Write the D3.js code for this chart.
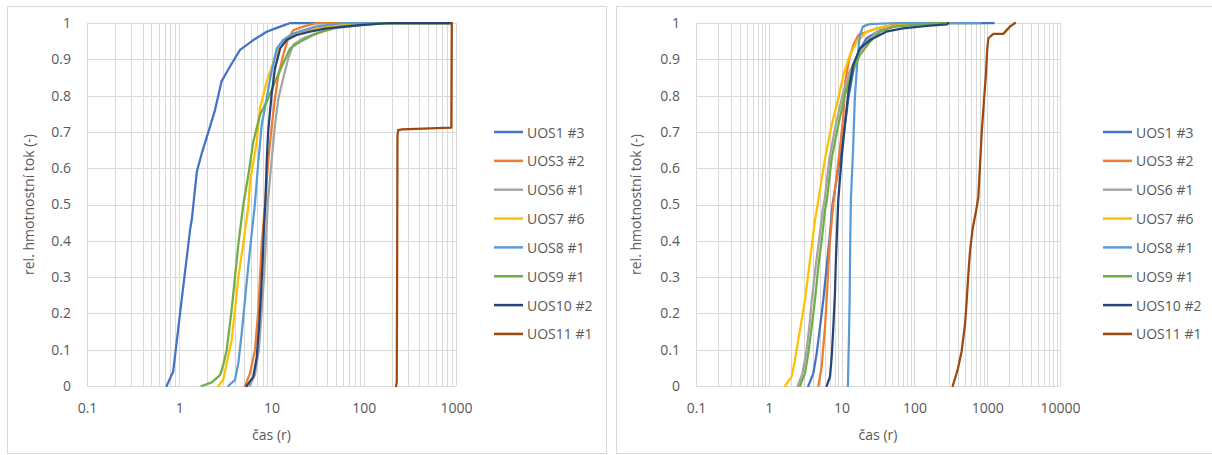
<!DOCTYPE html>
<html><head><meta charset="utf-8">
<script src="https://cdn.jsdelivr.net/npm/d3@7"></script>
<style>
html,body{margin:0;padding:0;background:#fff;}
text{font-family:"Open Sans",sans-serif;fill:#595959;}
</style></head>
<body>
<svg id="chart" width="1212" height="455"></svg>
<script>
// ---------- DATA ----------
const seriesNames = ["UOS1 #3","UOS3 #2","UOS6 #1","UOS7 #6","UOS8 #1","UOS9 #1","UOS10 #2","UOS11 #1"];
const seriesColors = ["#4472C4","#ED7D31","#A5A5A5","#FFC000","#5B9BD5","#70AD47","#264478","#9E480E"];
const yTickValues = [0,0.1,0.2,0.3,0.4,0.5,0.6,0.7,0.8,0.9,1];
const yTickLabels = ["0","0.1","0.2","0.3","0.4","0.5","0.6","0.7","0.8","0.9","1"];
const leftXTicks = [0.1,1,10,100,1000];
const leftXLabels = ["0.1","1","10","100","1000"];
const rightXTicks = [0.1,1,10,100,1000,10000];
const rightXLabels = ["0.1","1","10","100","1000","10000"];
const xTitle = "čas (r)";
const yTitle = "rel. hmotnostní tok (-)";

// left chart series [time, value]
const L_UOS1 = [[0.73,0],[0.86,0.04],[1.02,0.2],[1.15,0.31],[1.31,0.43],[1.37,0.46],[1.55,0.59],[1.75,0.64],[2.07,0.7],[2.44,0.76],[2.88,0.84],[3.55,0.88],[4.56,0.926],[6.35,0.953],[8.87,0.976],[12.4,0.99],[16,1],[900,1]];
const L_UOS3 = [[5.16,0],[5.85,0.035],[6.62,0.1],[7.2,0.21],[7.5,0.3],[7.83,0.39],[8.5,0.5],[9.2,0.618],[10.0,0.71],[10.9,0.793],[11.9,0.857],[13.4,0.912],[15.2,0.958],[17.2,0.98],[22.1,0.99],[31,1],[900,1]];
const L_UOS6 = [[5.8,0],[6.6,0.03],[7.3,0.1],[7.8,0.2],[8.3,0.3],[8.7,0.4],[9.1,0.5],[10.0,0.618],[10.9,0.719],[11.9,0.793],[13.4,0.848],[15.2,0.903],[17.2,0.94],[22.1,0.958],[30.9,0.972],[47,0.985],[100,0.995],[200,1],[900,1]];
const L_UOS7 = [[2.65,0],[3.0,0.017],[3.27,0.063],[3.7,0.127],[4.02,0.21],[4.37,0.3],[4.95,0.393],[5.6,0.494],[5.85,0.563],[6.92,0.673],[7.5,0.765],[8.87,0.838],[10.5,0.893],[12.4,0.94],[14.6,0.958],[20,0.975],[40,0.99],[80,1],[900,1]];
const L_UOS8 = [[3.4,0],[4.02,0.017],[4.37,0.063],[4.75,0.145],[5.16,0.237],[5.6,0.33],[6.1,0.42],[6.6,0.5],[7.2,0.618],[7.83,0.719],[8.87,0.793],[10.0,0.866],[11.4,0.93],[13.4,0.953],[17.2,0.971],[30,0.99],[60,1],[900,1]];
const L_UOS9 = [[1.75,0],[2.25,0.01],[2.77,0.03],[3.0,0.058],[3.27,0.1],[3.7,0.21],[4.02,0.3],[4.37,0.39],[4.95,0.5],[5.6,0.58],[6.35,0.673],[7.5,0.747],[8.87,0.783],[10.9,0.838],[13.4,0.889],[15.9,0.93],[20.4,0.948],[28.4,0.967],[39.6,0.98],[55.3,0.99],[150,1],[900,1]];
const L_UOS10 = [[5.38,0],[6.35,0.026],[6.92,0.08],[7.33,0.163],[7.7,0.255],[8.03,0.347],[8.3,0.439],[8.6,0.51],[8.87,0.618],[9.2,0.7],[10.0,0.8],[10.9,0.875],[12.4,0.93],[14.6,0.953],[18.7,0.967],[26.1,0.976],[39.6,0.985],[91,0.994],[193,1],[900,1]];
const L_UOS11 = [[224,0],[228,0.01],[230,0.3],[232,0.69],[236,0.705],[260,0.707],[890,0.712],[900,1]];

// right chart series [time, value]
const R_UOS1 = [[3.49,0],[4.09,0.035],[4.55,0.09],[5.05,0.163],[5.61,0.237],[6.24,0.329],[6.93,0.42],[7.5,0.5],[9.5,0.627],[11.1,0.719],[12.4,0.793],[14.4,0.866],[17,0.921],[22.1,0.958],[33.7,0.98],[63,0.994],[148,1],[1230,1]];
const R_UOS3 = [[4.79,0],[5.33,0.053],[5.61,0.108],[5.92,0.163],[6.24,0.237],[6.58,0.329],[6.93,0.402],[7.7,0.503],[8.57,0.58],[9.5,0.655],[10.6,0.747],[11.2,0.838],[12.8,0.903],[14.5,0.94],[17,0.967],[30,0.985],[51,0.995],[100,1],[300,1]];
const R_UOS6 = [[2.5,0],[2.9,0.035],[3.25,0.09],[3.6,0.163],[3.9,0.237],[4.4,0.329],[4.9,0.402],[5.5,0.485],[5.8,0.508],[6.8,0.627],[8.3,0.719],[10.3,0.802],[12.9,0.866],[16.5,0.912],[22,0.948],[31,0.976],[48,0.99],[120,0.997],[300,1]];
const R_UOS7 = [[1.67,0],[2.06,0.026],[2.29,0.072],[2.54,0.127],[2.83,0.182],[3.14,0.237],[3.49,0.31],[3.88,0.384],[4.31,0.457],[4.79,0.512],[5.92,0.627],[7.31,0.719],[9.02,0.793],[10.6,0.857],[13.0,0.912],[16.1,0.948],[22.1,0.976],[37.4,0.99],[87,0.997],[400,1],[580,1]];
const R_UOS8 = [[12.2,0],[12.6,0.127],[12.9,0.237],[13.1,0.375],[13.4,0.512],[14.4,0.655],[15.2,0.793],[16.1,0.866],[17,0.93],[17.9,0.967],[19.6,0.99],[24,0.997],[57,1],[800,1]];
const R_UOS9 = [[2.68,0],[3.14,0.035],[3.49,0.09],[3.88,0.163],[4.31,0.237],[4.79,0.329],[5.33,0.402],[5.92,0.485],[6.24,0.508],[7.31,0.627],[9.02,0.719],[11.1,0.802],[13.8,0.866],[17.9,0.912],[24.5,0.948],[33.7,0.976],[51.3,0.99],[200,1],[300,1]];
const R_UOS10 = [[6.24,0],[6.93,0.026],[7.31,0.08],[7.7,0.163],[8.1,0.255],[8.35,0.347],[8.7,0.439],[9.0,0.512],[10.0,0.627],[11.1,0.719],[12.4,0.811],[14.4,0.884],[17.9,0.93],[24.5,0.953],[41,0.976],[69,0.985],[148,0.992],[280,0.996],[290,1]];
const R_UOS11 = [[336,0],[380,0.035],[397,0.049],[444,0.094],[495,0.168],[522,0.232],[550,0.306],[580,0.37],[631,0.434],[700,0.48],[755,0.52],[795,0.604],[839,0.696],[904,0.788],[963,0.862],[1000,0.926],[1037,0.958],[1214,0.97],[1660,0.97],[2056,0.99],[2410,1]];

const leftSeries = [L_UOS1,L_UOS3,L_UOS6,L_UOS7,L_UOS8,L_UOS9,L_UOS10,L_UOS11];
const rightSeries = [R_UOS1,R_UOS3,R_UOS6,R_UOS7,R_UOS8,R_UOS9,R_UOS10,R_UOS11];

// ---------- DRAW ----------
const svg = d3.select("#chart");
const GRID = "#D9D9D9";

function panel(cfg) {
  const g = svg.append("g");
  // chart area border
  g.append("rect").attr("x", cfg.bx + 0.5).attr("y", 6.5).attr("width", cfg.bw).attr("height", 447)
    .attr("fill", "#fff").attr("stroke", GRID).attr("stroke-width", 1);

  const x = d3.scaleLog().domain(cfg.domain).range([cfg.x0, cfg.x1]);
  const y = d3.scaleLinear().domain([0, 1]).range([386, 23]);

  // vertical gridlines (major + minor)
  g.append("g").selectAll("line").data(x.ticks()).join("line")
    .attr("x1", d => Math.round(x(d)) + 0.5).attr("x2", d => Math.round(x(d)) + 0.5)
    .attr("y1", y(1)).attr("y2", y(0))
    .attr("stroke", GRID).attr("stroke-width", 1);
  // horizontal gridlines
  g.append("g").selectAll("line").data(yTickValues).join("line")
    .attr("x1", cfg.x0).attr("x2", cfg.x1)
    .attr("y1", d => Math.round(y(d)) + 0.5).attr("y2", d => Math.round(y(d)) + 0.5)
    .attr("stroke", GRID).attr("stroke-width", 1);

  // axes (labels only)
  const xAxis = d3.axisBottom(x).tickValues(cfg.xTicks)
    .tickFormat((d, i) => cfg.xLabels[i]).tickSize(0).tickPadding(17);
  const gx = g.append("g").attr("transform", `translate(0,${y(0)})`).call(xAxis);
  gx.select(".domain").remove();
  gx.selectAll("text").attr("font-size", "14px").attr("fill", "#595959")
    .attr("font-family", "Open Sans, sans-serif");

  const yAxis = d3.axisLeft(y).tickValues(yTickValues)
    .tickFormat((d, i) => yTickLabels[i]).tickSize(0).tickPadding(cfg.yPad);
  const gy = g.append("g").attr("transform", `translate(${cfg.x0},0)`).call(yAxis);
  gy.select(".domain").remove();
  gy.selectAll("text").attr("font-size", "14px").attr("fill", "#595959")
    .attr("font-family", "Open Sans, sans-serif");

  // titles
  g.append("text").attr("x", (cfg.x0 + cfg.x1) / 2 + cfg.xTitleDx).attr("y", 434)
    .attr("text-anchor", "middle").attr("dominant-baseline", "central")
    .attr("font-size", "14px").text(xTitle);
  g.append("text").attr("transform", `translate(${cfg.yTitleX},${(y(0) + y(1)) / 2}) rotate(-90)`)
    .attr("text-anchor", "middle").attr("dominant-baseline", "central")
    .attr("font-size", "14px").text(yTitle);

  // series
  const line = d3.line().x(d => x(d[0])).y(d => y(d[1]));
  cfg.series.forEach((s, i) => {
    g.append("path").datum(s).attr("d", line)
      .attr("fill", "none").attr("stroke", seriesColors[i])
      .attr("stroke-width", 2.25).attr("stroke-linejoin", "round").attr("stroke-linecap", "round");
  });

  // legend
  const lg = g.append("g");
  seriesNames.forEach((n, i) => {
    const ly = 132 + i * 28.85;
    lg.append("line").attr("x1", cfg.lx).attr("x2", cfg.lx + 29).attr("y1", ly).attr("y2", ly)
      .attr("stroke", seriesColors[i]).attr("stroke-width", 2.5);
    lg.append("text").attr("x", cfg.lx + 33).attr("y", ly).attr("dominant-baseline", "central")
      .attr("font-size", "14px").text(n);
  });
}

panel({bx: 7, bw: 599, x0: 87, x1: 456, domain: [0.1, 1000], xTicks: leftXTicks, xLabels: leftXLabels,
  yPad: 16, yTitleX: 28, xTitleDx: 0, series: leftSeries, lx: 494});
panel({bx: 616, bw: 620, x0: 696, x1: 1060, domain: [0.1, 10000], xTicks: rightXTicks, xLabels: rightXLabels,
  yPad: 16, yTitleX: 635, xTitleDx: 0, series: rightSeries, lx: 1103});
</script>
</body></html>
